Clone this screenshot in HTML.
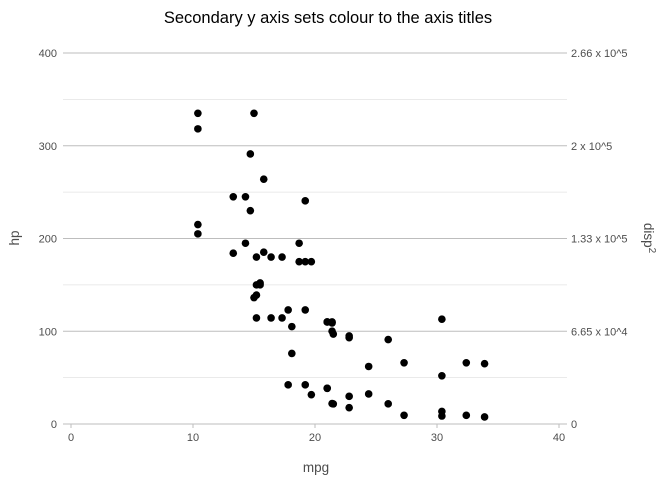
<!DOCTYPE html>
<html><head><meta charset="utf-8"><style>
body{margin:0;background:#fff;font-family:"Liberation Sans",sans-serif;}
svg text{font-family:"Liberation Sans",sans-serif;}
</style></head><body>
<svg id="chart" width="672" height="480" xmlns="http://www.w3.org/2000/svg">
<text x="328" y="23" text-anchor="middle" font-size="16.5" fill="#000">Secondary y axis sets colour to the axis titles</text>
<text x="316" y="472" text-anchor="middle" font-size="13.5" fill="#4d4d4d">mpg</text>
<text transform="translate(19,238) rotate(-90)" text-anchor="middle" font-size="13.5" fill="#4d4d4d">hp</text>
<text transform="translate(644,238) rotate(90)" text-anchor="middle" font-size="13.5" fill="#4d4d4d">disp<tspan dy="-5" font-size="10">2</tspan></text>
<g id="grid"></g><g id="ticks"></g><g id="points"></g>
</svg>
<script>
const mpg=[21.0,21.0,22.8,21.4,18.7,18.1,14.3,24.4,22.8,19.2,17.8,16.4,17.3,15.2,10.4,10.4,14.7,32.4,30.4,33.9,21.5,15.5,15.2,13.3,19.2,27.3,26.0,30.4,15.8,19.7,15.0,21.4];
const hp=[110,110,93,110,175,105,245,62,95,123,123,180,180,180,205,215,230,66,52,65,97,150,150,245,175,66,91,113,264,175,335,109];
const disp=[160,160,108,258,360,225,360,146.7,140.8,167.6,167.6,275.8,275.8,275.8,472,460,440,78.7,75.7,71.1,120.1,318,304,350,400,79,120.3,95.1,351,145,301,121];
const xTicks=[0,10,20,30,40];
const yTicks=[0,100,200,300,400];
const yMinor=[50,150,250,350];
const secLabels=["0","6.65 x 10^4","1.33 x 10^5","2 x 10^5","2.66 x 10^5"];
const secFactor=665;
const NS="http://www.w3.org/2000/svg";
const X=v=>71+v*12.2, Y=v=>424-v*0.9275;
function mk(t,a,p){const e=document.createElementNS(NS,t);for(const k in a)e.setAttribute(k,a[k]);p.appendChild(e);return e;}
const g=document.getElementById('grid'),tk=document.getElementById('ticks'),pt=document.getElementById('points');
yMinor.forEach(v=>{const l=mk('line',{x1:63,x2:567,y1:Y(v),y2:Y(v),stroke:'#e3e3e3','stroke-width':0.8},g);

});
yTicks.forEach((v,i)=>{const l=mk('line',{x1:63,x2:567,y1:Y(v),y2:Y(v),stroke:'#bdbdbd','stroke-width':1},g);


const t=mk('text',{x:57,y:Y(v)+4,'text-anchor':'end','font-size':11,fill:'#4d4d4d'},tk);t.textContent=v;


const s=mk('text',{x:571,y:Y(v)+4,'font-size':11,fill:'#4d4d4d'},tk);s.textContent=secLabels[i];

});
xTicks.forEach(v=>{const l=mk('line',{x1:X(v),x2:X(v),y1:424,y2:428,stroke:'#bdbdbd'},tk);


const t=mk('text',{x:X(v),y:441,'text-anchor':'middle','font-size':11,fill:'#4d4d4d'},tk);t.textContent=v;

});
mpg.forEach((m,i)=>{const c=mk('circle',{cx:X(m),cy:Y(hp[i]),r:3.8,fill:'#000'},pt);


const d=mk('circle',{cx:X(m),cy:Y(disp[i]*disp[i]/secFactor),r:3.8,fill:'#000'},pt);

});
</script>
</body></html>
